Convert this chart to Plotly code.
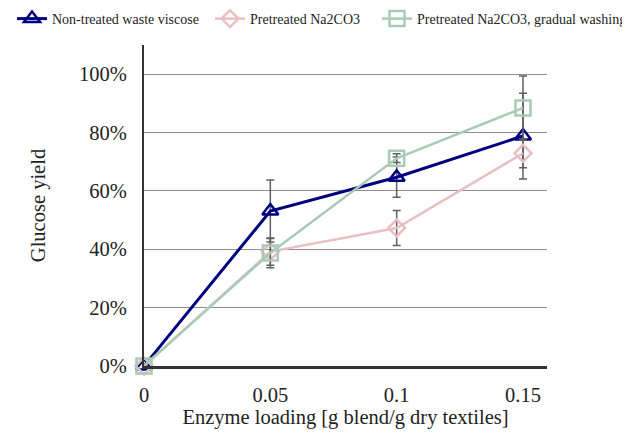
import plotly.graph_objects as go

loading = [0, 0.05, 0.1, 0.15]
x_ticks = [0, 0.05, 0.1, 0.15]
x_tick_labels = ["0", "0.05", "0.1", "0.15"]
y_ticks = [0, 0.2, 0.4, 0.6, 0.8, 1.0]
y_tick_labels = ["0%", "20%", "40%", "60%", "80%", "100%"]

names = ["Non-treated waste viscose", "Pretreated Na2CO3", "Pretreated Na2CO3, gradual washing"]
nontreated = [0.0, 0.531, 0.647, 0.788]
nontreated_err = [0.0, 0.106, 0.069, 0.147]
pretreated = [0.0, 0.392, 0.473, 0.729]
pretreated_err = [0.0, 0.047, 0.060, 0.050]
washing = [0.0, 0.387, 0.712, 0.884]
washing_err = [0.0, 0.050, 0.015, 0.110]

colors = ["#000080", "#E8C0C1", "#A9CBB6"]
symbols = ["triangle-up-open", "diamond-open", "square-open"]
sizes = [14, 13, 15]
widths = [3, 2.5, 2.5]
legend_ids = ["legend", "legend2", "legend3"]

W, H = 622, 425  # page body adds an 8px offset
L, R, T, B = 136, 83, 37, 67
PW, PH = W - L - R, H - T - B

fig = go.Figure()
for name, y, err, c, s, sz, w, lg in zip(names, [nontreated, pretreated, washing],
                                         [nontreated_err, pretreated_err, washing_err],
                                         colors, symbols, sizes, widths, legend_ids):
    fig.add_trace(go.Scatter(
        x=loading, y=y, name=name, mode="lines+markers",
        line=dict(color=c, width=w),
        marker=dict(symbol=s, size=sz, color=c, line=dict(color=c, width=2.5)),
        error_y=dict(type="data", array=err, visible=True, color="#606060", thickness=1.5, width=4),
        cliponaxis=False, legend=lg,
    ))

font_family = "Liberation Serif, Times New Roman, serif"
leg_font = dict(family=font_family, size=14, color="#222")

def leg(xpx, toppx=-5):
    return dict(orientation="h", x=(xpx - L) / PW, xanchor="left", xref="paper",
                y=1 + (T - toppx) / PH, yanchor="top", yref="paper", font=leg_font,
                bgcolor="rgba(0,0,0,0)")

fig.update_layout(
    width=W, height=H,
    margin=dict(l=L, r=R, t=T, b=B, autoexpand=False),
    paper_bgcolor="white", plot_bgcolor="white",
    font=dict(family=font_family, size=20.5, color="#222"),
    showlegend=True,
    legend=leg(4), legend2=leg(202), legend3=leg(369),
    xaxis=dict(range=[0, 0.1595], tickvals=x_ticks, ticktext=x_tick_labels,
               showgrid=False, zeroline=False, showline=True, linecolor="#333", linewidth=2.5,
               ticks="", ticklabelstandoff=9,
               title=dict(text="Enzyme loading [g blend/g dry textiles]", standoff=2,
                          font=dict(size=20.5))),
    yaxis=dict(range=[0, 1.1], tickvals=y_ticks, ticktext=y_tick_labels,
               showgrid=True, gridcolor="#8f8f8f", gridwidth=1,
               zeroline=False, showline=True, linecolor="#333", linewidth=2,
               ticks="", ticklabelstandoff=11,
               title=dict(text="Glucose yield", standoff=28, font=dict(size=20.5))),
)

fig.write_html("out.html")
